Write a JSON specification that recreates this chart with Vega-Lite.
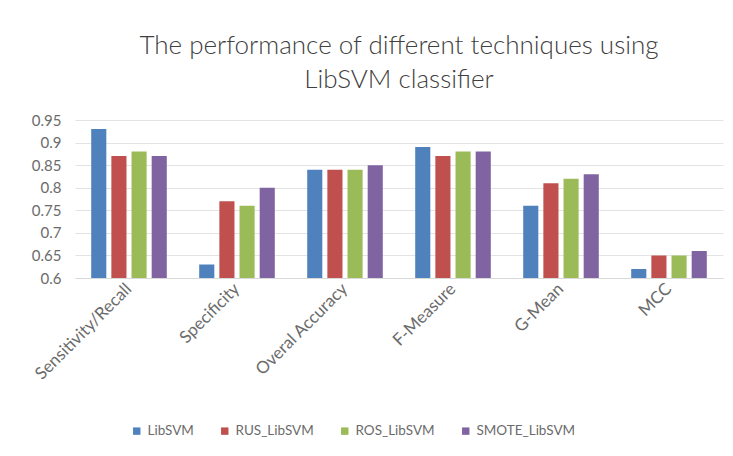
{
  "$schema": "https://vega.github.io/schema/vega-lite/v6.json",
  "width": 648,
  "height": 158,
  "autosize": {"type": "none"},
  "padding": {"left": 75, "top": 120, "right": 10, "bottom": 178},
  "background": "white",
  "title": {
    "text": ["The performance of different techniques using", "LibSVM classifier"],
    "font": "Lato",
    "fontSize": 26,
    "fontWeight": 300,
    "color": "#404040",
    "anchor": "middle",
    "lineHeight": 34,
    "offset": 20
  },
  "data": {
    "values": [
      {"metric": "Sensitivity/Recall", "technique": "LibSVM", "value": 0.93},
      {"metric": "Sensitivity/Recall", "technique": "RUS_LibSVM", "value": 0.87},
      {"metric": "Sensitivity/Recall", "technique": "ROS_LibSVM", "value": 0.88},
      {"metric": "Sensitivity/Recall", "technique": "SMOTE_LibSVM", "value": 0.87},
      {"metric": "Specificity", "technique": "LibSVM", "value": 0.63},
      {"metric": "Specificity", "technique": "RUS_LibSVM", "value": 0.77},
      {"metric": "Specificity", "technique": "ROS_LibSVM", "value": 0.76},
      {"metric": "Specificity", "technique": "SMOTE_LibSVM", "value": 0.80},
      {"metric": "Overal Accuracy", "technique": "LibSVM", "value": 0.84},
      {"metric": "Overal Accuracy", "technique": "RUS_LibSVM", "value": 0.84},
      {"metric": "Overal Accuracy", "technique": "ROS_LibSVM", "value": 0.84},
      {"metric": "Overal Accuracy", "technique": "SMOTE_LibSVM", "value": 0.85},
      {"metric": "F-Measure", "technique": "LibSVM", "value": 0.89},
      {"metric": "F-Measure", "technique": "RUS_LibSVM", "value": 0.87},
      {"metric": "F-Measure", "technique": "ROS_LibSVM", "value": 0.88},
      {"metric": "F-Measure", "technique": "SMOTE_LibSVM", "value": 0.88},
      {"metric": "G-Mean", "technique": "LibSVM", "value": 0.76},
      {"metric": "G-Mean", "technique": "RUS_LibSVM", "value": 0.81},
      {"metric": "G-Mean", "technique": "ROS_LibSVM", "value": 0.82},
      {"metric": "G-Mean", "technique": "SMOTE_LibSVM", "value": 0.83},
      {"metric": "MCC", "technique": "LibSVM", "value": 0.62},
      {"metric": "MCC", "technique": "RUS_LibSVM", "value": 0.65},
      {"metric": "MCC", "technique": "ROS_LibSVM", "value": 0.65},
      {"metric": "MCC", "technique": "SMOTE_LibSVM", "value": 0.66}
    ]
  },
  "mark": {"type": "bar", "clip": true},
  "encoding": {
    "x": {
      "field": "metric",
      "type": "nominal",
      "sort": null,
      "scale": {"paddingInner": 0.3, "paddingOuter": 0.15},
      "axis": {
        "title": null,
        "labelAngle": -45,
        "labelAlign": "right",
        "labelBaseline": "middle",
        "labelFont": "Lato",
        "labelFontSize": 17,
        "labelColor": "#6B6B6B",
        "labelPadding": 8,
        "ticks": false,
        "domainColor": "#D9D9D9",
        "grid": false
      }
    },
    "xOffset": {
      "field": "technique",
      "type": "nominal",
      "sort": ["LibSVM", "RUS_LibSVM", "ROS_LibSVM", "SMOTE_LibSVM"],
      "scale": {"paddingInner": 0.25, "paddingOuter": 0}
    },
    "y": {
      "field": "value",
      "type": "quantitative",
      "scale": {"domain": [0.6, 0.95], "zero": false, "nice": false},
      "axis": {
        "title": null,
        "values": [0.6, 0.65, 0.7, 0.75, 0.8, 0.85, 0.9, 0.95],
        "format": ".2~f",
        "labelFont": "Lato",
        "labelFontSize": 15,
        "labelColor": "#6B6B6B",
        "labelPadding": 14,
        "ticks": false,
        "domain": false,
        "gridColor": "#E3E3E3"
      }
    },
    "color": {
      "field": "technique",
      "type": "nominal",
      "sort": ["LibSVM", "RUS_LibSVM", "ROS_LibSVM", "SMOTE_LibSVM"],
      "scale": {
        "domain": ["LibSVM", "RUS_LibSVM", "ROS_LibSVM", "SMOTE_LibSVM"],
        "range": ["#4F81BD", "#C0504D", "#9BBB59", "#8064A2"]
      },
      "legend": {
        "title": null,
        "orient": "none",
        "direction": "horizontal",
        "legendX": 55,
        "legendY": 304,
        "symbolType": "square",
        "symbolSize": 55,
        "symbolStrokeWidth": 0,
        "labelFont": "Lato",
        "labelFontSize": 13.5,
        "labelColor": "#6B6B6B",
        "columnPadding": 24,
        "labelOffset": 4
      }
    }
  },
  "config": {"view": {"stroke": null}}
}
